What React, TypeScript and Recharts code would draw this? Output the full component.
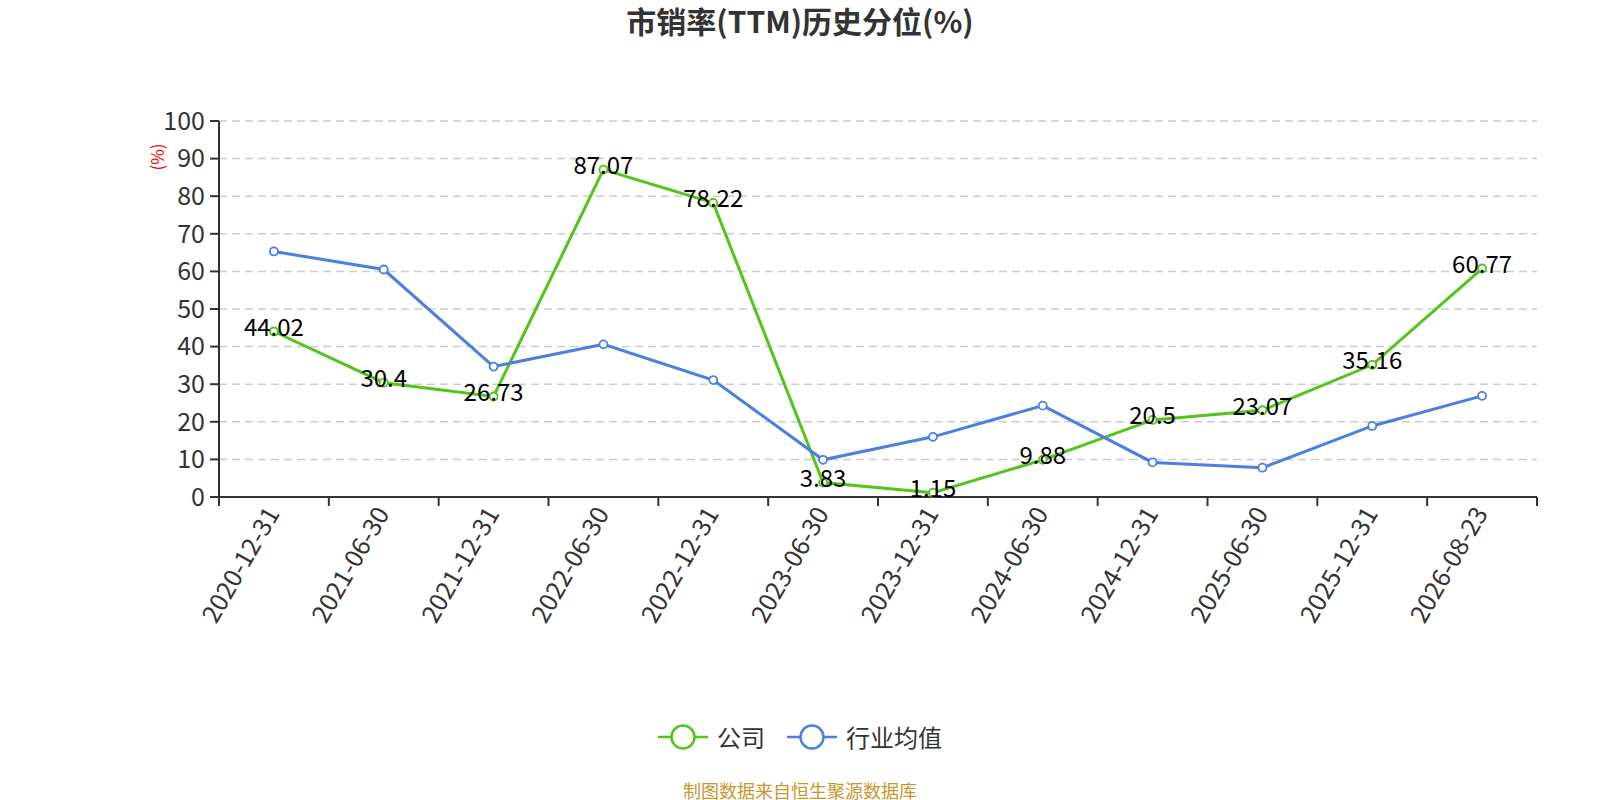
import { CartesianGrid, LabelList, Line, LineChart, XAxis, YAxis } from "recharts";

const categories = [
  "2020-12-31",
  "2021-06-30",
  "2021-12-31",
  "2022-06-30",
  "2022-12-31",
  "2023-06-30",
  "2023-12-31",
  "2024-06-30",
  "2024-12-31",
  "2025-06-30",
  "2025-12-31",
  "2026-08-23",
];
const companyValues = [44.02, 30.4, 26.73, 87.07, 78.22, 3.83, 1.15, 9.88, 20.5, 23.07, 35.16, 60.77];
const industryValues = [65.3, 60.5, 34.7, 40.6, 31.1, 9.9, 16.0, 24.3, 9.2, 7.8, 18.9, 26.9];
const yTicks = [0, 10, 20, 30, 40, 50, 60, 70, 80, 90, 100];
const seriesNames = ["公司", "行业均值"];

const GREEN = "#52c41a";
const BLUE = "#4b7fe0";
const FONT = '"Noto Sans CJK SC", "Noto Sans", sans-serif';

const W = 1600;
const H = 800;
const PLOT_LEFT = 219;
const PLOT_RIGHT = 1537;
const BAND = (PLOT_RIGHT - PLOT_LEFT) / categories.length;

const data = categories.map((name, i) => ({
  idx: i,
  name,
  company: companyValues[i],
  industry: industryValues[i],
}));

// tick lines sit on band edges, labels in the band centre
const boundaryTicks = categories.map((_, i) => i - 0.5).concat(categories.length - 0.5);

function XTick(props: any) {
  const { x, y, payload } = props;
  const i = payload.value + 0.5;
  if (i >= categories.length) return null;
  const cx = x + BAND / 2 - 3;
  const ty = y;
  return (
    <text
      x={cx}
      y={ty}
      transform={`rotate(-60, ${cx}, ${ty})`}
      textAnchor="end"
      dominantBaseline="central"
      fontSize={25}
      fill="#333"
      fontFamily={FONT}
    >
      {categories[i]}
    </text>
  );
}

function ValueLabel(props: any) {
  const { x, y, value } = props;
  return (
    <text x={x} y={y - 6} textAnchor="middle" dominantBaseline="central" fontSize={24} fill="#000" fontFamily={FONT}>
      {value}
    </text>
  );
}

function ChartLegend() {
  const colors = [GREEN, BLUE];
  return (
    <div
      style={{
        position: "absolute",
        top: 722,
        width: W,
        display: "flex",
        justifyContent: "center",
        alignItems: "center",
        fontFamily: FONT,
      }}
    >
      {seriesNames.map((n, i) => (
        <div key={n} style={{ display: "flex", alignItems: "center", marginRight: i === 0 ? 22 : 0 }}>
          <svg width={50} height={28}>
            <line x1={0} y1={14} x2={50} y2={14} stroke={colors[i]} strokeWidth={2.5} />
            <circle cx={25} cy={14} r={11.5} fill="#fff" stroke={colors[i]} strokeWidth={2.5} />
          </svg>
          <span style={{ marginLeft: 9, fontSize: 24, color: "#333", lineHeight: "30px" }}>{n}</span>
        </div>
      ))}
    </div>
  );
}

export default function App() {
  return (
    <div style={{ position: "absolute", left: 0, top: 0, width: W, height: H, background: "#fff", fontFamily: FONT }}>
      <div
        style={{
          position: "absolute",
          top: 0,
          width: W,
          textAlign: "center",
          fontSize: 30,
          fontWeight: "bold",
          color: "#333",
          lineHeight: "40px",
        }}
      >
        市销率(TTM)历史分位(%)
      </div>
      <LineChart width={W} height={H} data={data} margin={{ top: 121, right: W - PLOT_RIGHT, left: 0, bottom: 0 }}>
        <CartesianGrid vertical={false} stroke="#ccc" strokeDasharray="8 5" strokeWidth={1.5} />
        <XAxis
          dataKey="idx"
          type="number"
          domain={[-0.5, categories.length - 0.5]}
          ticks={boundaryTicks}
          interval={0}
          height={H - 497}
          tick={<XTick />}
          tickSize={9}
          axisLine={{ stroke: "#333", strokeWidth: 2 }}
          tickLine={{ stroke: "#333", strokeWidth: 2 }}
        />
        <YAxis
          domain={[0, 100]}
          ticks={yTicks}
          interval={0}
          width={PLOT_LEFT}
          tickSize={9}
          tickMargin={5}
          tick={{ fontSize: 25, fill: "#333", fontFamily: FONT }}
          axisLine={{ stroke: "#333", strokeWidth: 2 }}
          tickLine={{ stroke: "#333", strokeWidth: 2 }}
          label={(p: any) => {
            const vb = p.viewBox;
            const lx = vb.x + vb.width - 63;
            const ly = vb.y + 36;
            return (
              <text
                x={lx}
                y={ly}
                transform={`rotate(-90, ${lx}, ${ly})`}
                textAnchor="middle"
                dominantBaseline="central"
                fontSize={17}
                fill="red"
                fontFamily={FONT}
              >
                (%)
              </text>
            );
          }}
        />
        <Line
          type="linear"
          dataKey="company"
          name={seriesNames[0]}
          stroke={GREEN}
          strokeWidth={3}
          dot={{ r: 4, fill: "#fff", stroke: GREEN, strokeWidth: 1.8 }}
          activeDot={false}
          isAnimationActive={false}
        >
          <LabelList dataKey="company" content={<ValueLabel />} />
        </Line>
        <Line
          type="linear"
          dataKey="industry"
          name={seriesNames[1]}
          stroke={BLUE}
          strokeWidth={3}
          dot={{ r: 4, fill: "#fff", stroke: BLUE, strokeWidth: 1.8 }}
          activeDot={false}
          isAnimationActive={false}
        />
      </LineChart>
      <ChartLegend />
      <div
        style={{
          position: "absolute",
          top: 778,
          width: W,
          textAlign: "center",
          fontSize: 18,
          color: "#c8962e",
          lineHeight: "24px",
        }}
      >
        制图数据来自恒生聚源数据库
      </div>
    </div>
  );
}
